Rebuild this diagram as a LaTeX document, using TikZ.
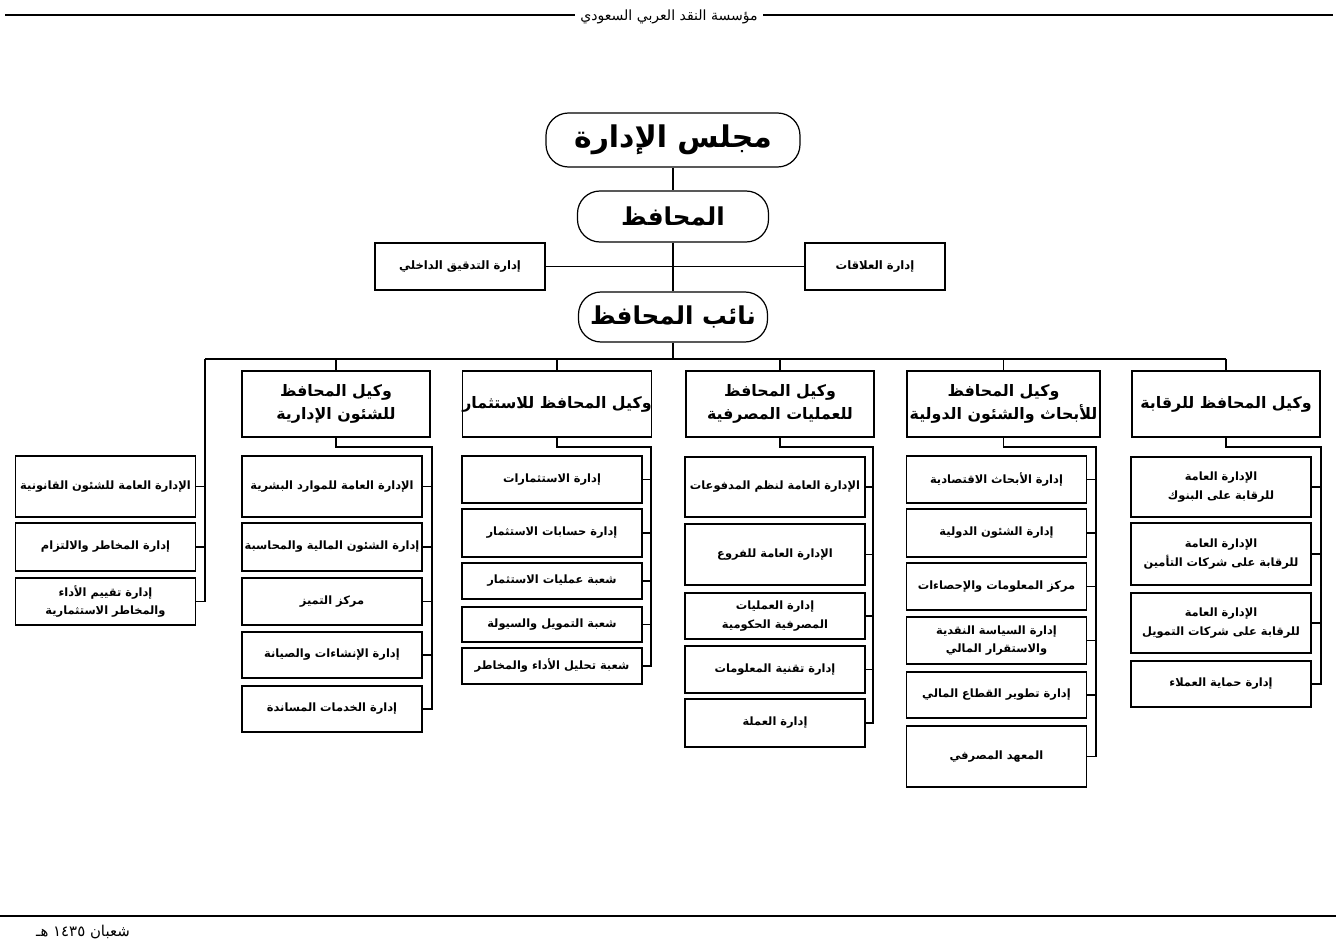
\documentclass[tikz,border=0pt]{standalone}
\usepackage{fontspec}
\usepackage{tikz}
\usetikzlibrary{positioning,calc}
\newfontfamily\arabicfont[Script=Arabic]{DejaVu Sans}
\TeXXeTstate=1
\newcommand{\artext}[1]{\beginR #1\endR}
\tikzset{
  conn/.style={line width=0.6pt, color=black},
  topbox/.style={draw, line width=0.7pt, rounded corners=4.5mm, align=center, inner sep=0pt,
                 font=\arabicfont\bfseries\fontsize{14}{16}\selectfont},
  unitbox/.style={draw, line width=0.6pt, align=center, inner sep=0pt, minimum height=9.4mm,
                  font=\arabicfont\bfseries\fontsize{6.6}{9}\selectfont},
  vicebox/.style={draw, line width=0.7pt, align=center, inner sep=0pt, minimum width=37.6mm,
                  minimum height=13.2mm, font=\arabicfont\bfseries\fontsize{9}{13.5}\selectfont},
  deptbox/.style={draw, line width=0.6pt, align=center, inner sep=0pt, minimum width=36mm,
                  font=\arabicfont\bfseries\fontsize{6.5}{10.5}\selectfont},
}
\begin{document}
\begin{tikzpicture}[x=0.2mm, y=-0.2mm]
  \useasboundingbox (0,0) rectangle (1336,947);

  % page header and footer
  \node[font=\arabicfont\fontsize{8}{10}\selectfont, inner sep=3pt] (hdr) at (669,17)
        {\artext{مؤسسة النقد العربي السعودي}};
  \coordinate (hdrL) at (5,15);
  \coordinate (hdrR) at (1333,15);
  \draw[conn] (hdrL) -- (hdr.west |- hdrL);
  \draw[conn] (hdr.east |- hdrR) -- (hdrR);
  \coordinate (ftL) at (0,916);
  \coordinate (ftR) at (1336,916);
  \draw[line width=1.6pt] (ftL) -- (ftR);
  \node[font=\arabicfont\fontsize{8.5}{10}\selectfont] (date) at (83,932)
        {\artext{شعبان ١٤٣٥ هـ}};

  % top of the chart
  \node[topbox, minimum width=50.8mm, minimum height=10.8mm,
        font=\arabicfont\bfseries\fontsize{17}{19}\selectfont] (board) at (673,140) {\artext{مجلس الإدارة}};
  \node[topbox, minimum width=38.2mm, minimum height=10.2mm] (gov) at (673,216.5) {\artext{المحافظ}};
  \node[topbox, minimum width=37.8mm, minimum height=10mm] (dep) at (673,317) {\artext{نائب المحافظ}};
  \node[unitbox, minimum width=34mm] (audit) at (460,266.5) {\artext{إدارة التدقيق الداخلي}};
  \node[unitbox, minimum width=28mm] (rel) at (875,266.5) {\artext{إدارة العلاقات}};

  \draw[conn] (board) -- (gov);
  \draw[conn] (gov) -- (dep);
  \draw[conn] (audit) -- (rel);

  % vice governors
  \node[vicebox] (vAdm)  at (336,404)  {\artext{وكيل المحافظ}\\\artext{للشئون الإدارية}};
  \node[vicebox] (vInv)  at (557,404)  {\artext{وكيل المحافظ للاستثمار}};
  \node[vicebox] (vBank) at (780,404)  {\artext{وكيل المحافظ}\\\artext{للعمليات المصرفية}};
  \node[vicebox, minimum width=38.6mm] (vRes) at (1003.5,404) {\artext{وكيل المحافظ}\\\artext{للأبحاث والشئون الدولية}};
  \node[vicebox] (vSup)  at (1226,404) {\artext{وكيل المحافظ للرقابة}};

  \coordinate (busL) at (205,359);
  \coordinate (busR) at (1226,359);
  \draw[conn] (dep) -- (dep |- busL);
  \draw[conn] (busL) -- (busR);
  \foreach \v in {vAdm,vInv,vBank,vRes,vSup}
    \draw[conn] (\v.north) -- (\v.north |- busL);

  % units under the deputy (far left)
  \node[deptbox, minimum height=12.2mm] (leg1) at (105.5,486.5) {\artext{الإدارة العامة للشئون القانونية}};
  \node[deptbox, minimum height=9.6mm]  (leg2) at (105.5,547)   {\artext{إدارة المخاطر والالتزام}};
  \node[deptbox, minimum height=9.4mm]  (leg3) at (105.5,601.5) {\artext{إدارة تقييم الأداء}\\\artext{والمخاطر الاستثمارية}};
  \draw[conn] (busL) |- (leg3.east);
  \foreach \n in {leg1,leg2}
    \draw[conn] (\n.east) -- (\n.east -| busL);

  % administrative affairs
  \node[deptbox, minimum height=12.2mm] (a1) at (332,486.5) {\artext{الإدارة العامة للموارد البشرية}};
  \node[deptbox, minimum height=9.6mm]  (a2) at (332,547)   {\artext{إدارة الشئون المالية والمحاسبة}};
  \node[deptbox, minimum height=9.4mm]  (a3) at (332,601.5) {\artext{مركز التميز}};
  \node[deptbox, minimum height=9.2mm]  (a4) at (332,655)   {\artext{إدارة الإنشاءات والصيانة}};
  \node[deptbox, minimum height=9.2mm]  (a5) at (332,709)   {\artext{إدارة الخدمات المساندة}};
  \coordinate (admBr) at (432,447);
  \draw[conn] (vAdm.south) |- (admBr) |- (a5.east);
  \foreach \n in {a1,a2,a3,a4}
    \draw[conn] (\n.east) -- (\n.east -| admBr);

  % investment
  \node[deptbox, minimum height=9.4mm] (i1) at (552,479.5) {\artext{إدارة الاستثمارات}};
  \node[deptbox, minimum height=9.6mm] (i2) at (552,533)   {\artext{إدارة حسابات الاستثمار}};
  \node[deptbox, minimum height=7.2mm] (i3) at (552,581)   {\artext{شعبة عمليات الاستثمار}};
  \node[deptbox, minimum height=7mm]   (i4) at (552,624.5) {\artext{شعبة التمويل والسيولة}};
  \node[deptbox, minimum height=7.2mm] (i5) at (552,666)   {\artext{شعبة تحليل الأداء والمخاطر}};
  \coordinate (invBr) at (651,447);
  \draw[conn] (vInv.south) |- (invBr) |- (i5.east);
  \foreach \n in {i1,i2,i3,i4}
    \draw[conn] (\n.east) -- (\n.east -| invBr);

  % banking operations
  \node[deptbox, minimum height=12mm]   (b1) at (775,487)   {\artext{الإدارة العامة لنظم المدفوعات}};
  \node[deptbox, minimum height=12.2mm] (b2) at (775,554.5) {\artext{الإدارة العامة للفروع}};
  \node[deptbox, minimum height=9.2mm]  (b3) at (775,616)   {\artext{إدارة العمليات}\\\artext{المصرفية الحكومية}};
  \node[deptbox, minimum height=9.4mm]  (b4) at (775,669.5) {\artext{إدارة تقنية المعلومات}};
  \node[deptbox, minimum height=9.6mm]  (b5) at (775,723)   {\artext{إدارة العملة}};
  \coordinate (bankBr) at (873,447);
  \draw[conn] (vBank.south) |- (bankBr) |- (b5.east);
  \foreach \n in {b1,b2,b3,b4}
    \draw[conn] (\n.east) -- (\n.east -| bankBr);

  % research and international affairs
  \node[deptbox, minimum height=9.4mm]  (r1) at (996.5,479.5) {\artext{إدارة الأبحاث الاقتصادية}};
  \node[deptbox, minimum height=9.6mm]  (r2) at (996.5,533)   {\artext{إدارة الشئون الدولية}};
  \node[deptbox, minimum height=9.4mm]  (r3) at (996.5,586.5) {\artext{مركز المعلومات والإحصاءات}};
  \node[deptbox, minimum height=9.4mm]  (r4) at (996.5,640.5) {\artext{إدارة السياسة النقدية}\\\artext{والاستقرار المالي}};
  \node[deptbox, minimum height=9.2mm]  (r5) at (996.5,695)   {\artext{إدارة تطوير القطاع المالي}};
  \node[deptbox, minimum height=12.2mm] (r6) at (996.5,756.5) {\artext{المعهد المصرفي}};
  \coordinate (resBr) at (1096,447);
  \draw[conn] (vRes.south) |- (resBr) |- (r6.east);
  \foreach \n in {r1,r2,r3,r4,r5}
    \draw[conn] (\n.east) -- (\n.east -| resBr);

  % supervision
  \node[deptbox, minimum height=12mm]   (s1) at (1221,487) {\artext{الإدارة العامة}\\\artext{للرقابة على البنوك}};
  \node[deptbox, minimum height=12.4mm] (s2) at (1221,554) {\artext{الإدارة العامة}\\\artext{للرقابة على شركات التأمين}};
  \node[deptbox, minimum height=12mm]   (s3) at (1221,623) {\artext{الإدارة العامة}\\\artext{للرقابة على شركات التمويل}};
  \node[deptbox, minimum height=9.2mm]  (s4) at (1221,684) {\artext{إدارة حماية العملاء}};
  \coordinate (supBr) at (1321,447);
  \draw[conn] (vSup.south) |- (supBr) |- (s4.east);
  \foreach \n in {s1,s2,s3}
    \draw[conn] (\n.east) -- (\n.east -| supBr);
\end{tikzpicture}
\end{document}
